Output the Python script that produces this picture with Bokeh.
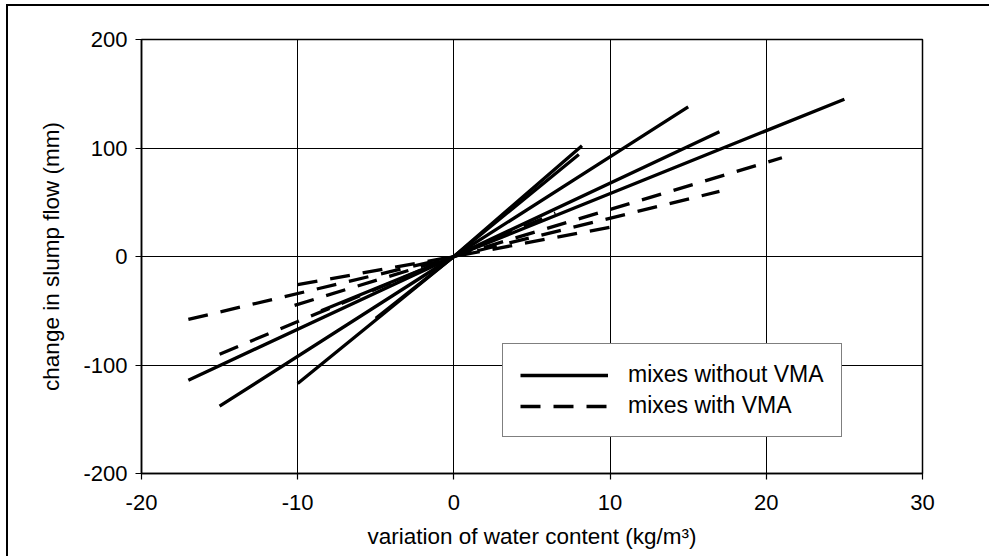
from bokeh.plotting import figure
from bokeh.models import Range1d, FixedTicker, Legend, LegendItem
from bokeh.embed import file_html
from bokeh.resources import INLINE

# ---- data ----
x_ticks = [-20, -10, 0, 10, 20, 30]
y_ticks = [-200, -100, 0, 100, 200]

# mixes without VMA (solid lines): start, origin, end
solid_x = [[-15, 0, 15], [-17, 0, 17], [-10, 0, 8.2], [-5, 0, 8], [-8.5, 0, 25]]
solid_y = [[-138, 0, 138], [-114, 0, 115], [-117, 0, 102], [-57, 0, 94], [-50, 0, 145]]

# mixes with VMA (dashed lines)
dashed_x = [[-10.2, 0, 21], [-17, 0, 17], [-10, 0, 10], [-15, 0, 6.5]]
dashed_y = [[-45, 0, 91], [-58, 0, 60], [-26, 0, 27], [-90, 0, 40]]

legend_labels = ["mixes without VMA", "mixes with VMA"]
x_label = "variation of water content (kg/m³)"
y_label = "change in slump flow (mm)"

FONT = "Liberation Sans"
OFF_X, OFF_Y = 8, 6   # position of the picture's outer frame

p = figure(width=991 - OFF_X, height=558 - OFF_Y,
           x_range=Range1d(-20, 30), y_range=Range1d(-200, 200),
           output_backend="svg", toolbar_location=None,
           min_border_left=141 - OFF_X, min_border_right=69,
           min_border_top=39 - OFF_Y, min_border_bottom=85)
p.margin = (OFF_Y, 0, 0, OFF_X)
p.styles = {"box-shadow": "-2px -2px 0px 0px black"}

p.background_fill_color = "white"
p.border_fill_color = "white"
p.outline_line_color = "black"
p.outline_line_width = 1.5

for ax in (p.xaxis[0], p.yaxis[0]):
    ax.axis_line_color = "black"
    ax.axis_line_width = 1.5
    ax.major_tick_line_color = "black"
    ax.major_tick_line_width = 1.2
    ax.minor_tick_line_color = None
    ax.major_label_text_font = FONT
    ax.major_label_text_font_size = "22px"
    ax.major_label_text_color = "black"
    ax.axis_label_text_font = FONT
    ax.axis_label_text_font_size = "22.5px"
    ax.axis_label_text_font_style = "normal"
    ax.axis_label_text_color = "black"

p.xaxis.ticker = FixedTicker(ticks=x_ticks)
p.yaxis.ticker = FixedTicker(ticks=y_ticks)
p.xaxis.major_label_overrides = {t: str(t) for t in x_ticks}
p.yaxis.major_label_overrides = {t: str(t) for t in y_ticks}
p.xaxis.major_tick_out = 6
p.xaxis.major_tick_in = 0
p.yaxis.major_tick_out = 6
p.yaxis.major_tick_in = 5
p.xaxis.major_label_standoff = 15
p.yaxis.major_label_standoff = 8
p.xaxis.axis_label = x_label
p.yaxis.axis_label = y_label
p.xaxis.axis_label_standoff = 11
p.yaxis.axis_label_standoff = 16

p.xgrid.ticker = FixedTicker(ticks=x_ticks)
p.ygrid.ticker = FixedTicker(ticks=y_ticks)
for g in (p.xgrid[0], p.ygrid[0]):
    g.grid_line_color = "black"
    g.grid_line_width = 1
    g.grid_line_alpha = 1

solid_r = p.multi_line(xs=solid_x, ys=solid_y, line_color="black", line_width=3.3)
dashed_r = p.multi_line(xs=dashed_x, ys=dashed_y, line_color="black", line_width=3.3,
                        line_dash="20 13")

legend = Legend(items=[LegendItem(label=legend_labels[0], renderers=[solid_r]),
                       LegendItem(label=legend_labels[1], renderers=[dashed_r])],
                location=(361, 36))
legend.glyph_width = 88
legend.glyph_height = 22
legend.label_height = 22
legend.label_standoff = 20
legend.spacing = 4
legend.padding = 17
legend.margin = 0
legend.label_text_font = FONT
legend.label_text_font_size = "23px"
legend.label_text_color = "black"
legend.border_line_color = "black"
legend.border_line_width = 1.5
legend.background_fill_color = "white"
legend.background_fill_alpha = 1
p.add_layout(legend)

open("out.html", "w").write(file_html(p, INLINE))
